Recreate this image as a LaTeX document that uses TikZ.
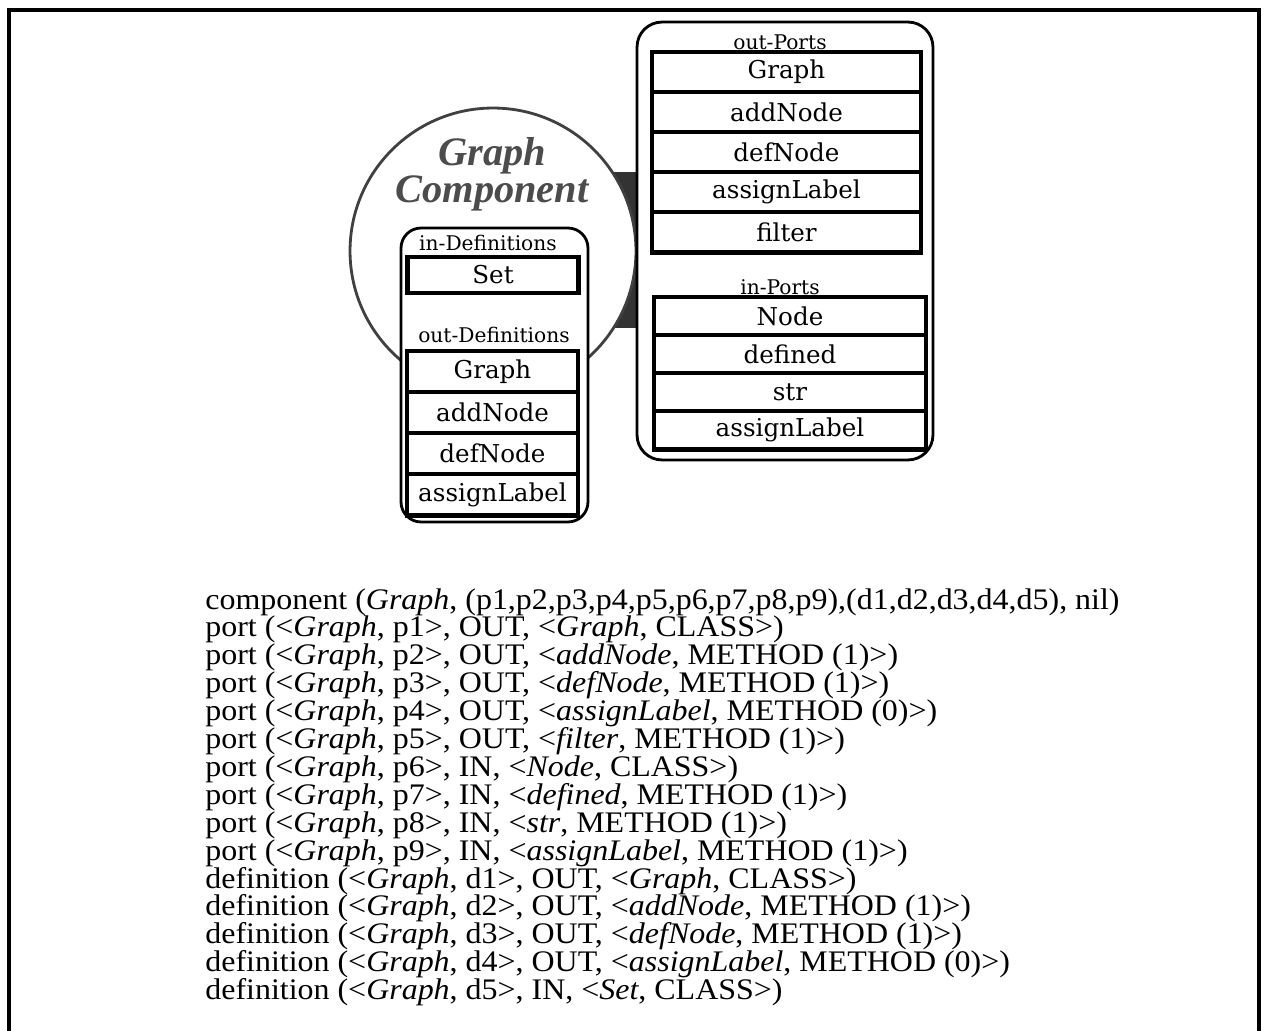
\documentclass[tikz,border=0pt]{standalone}
\usepackage{fontspec}
\setmainfont{Liberation Serif}
\newfontfamily\boxfont{DejaVu Serif}
\newfontfamily\specfont[FakeStretch=1.07]{Liberation Serif}
\usetikzlibrary{positioning}

\begin{document}
\begin{tikzpicture}[
  x=0.02cm, y=-0.02cm,
  holder/.style={draw, line width=1.6pt, fill=white, inner sep=0pt},
  entry/.style={draw, line width=1.2pt, fill=white, inner sep=0pt,
                font=\boxfont\fontsize{14}{16}\selectfont},
  oprow/.style={entry, minimum width=5.34cm, minimum height=0.76cm},
  iprow/.style={entry, minimum width=5.4cm, minimum height=0.72cm},
  defrow/.style={entry, minimum width=3.38cm, minimum height=0.78cm},
  caption/.style={font=\boxfont\fontsize{11.5}{13}\selectfont, inner sep=0pt},
  listframe/.style={line width=2.6pt},
  spec/.style={font=\specfont\fontsize{17}{20}\selectfont, inner sep=0pt, anchor=base west}
]
\useasboundingbox (0,0) rectangle (1265,1031);
\draw[line width=2pt] (9,1100) -- (9,10) -- (1259,10) -- (1259,1100);

% dark bar joining the component to its ports
\fill[black!80] (613,172) rectangle (640,328);
\node[circle, draw=black!75, line width=1.6pt, fill=white, minimum size=5.72cm] (comp) at (493,251) {};
\node[font=\bfseries\itshape\fontsize{23}{20}\selectfont, text=black!70, align=center] (title) at (492,174) {Graph\\Component};

% ports
\node[holder, rounded corners=0.5cm, minimum width=5.92cm, minimum height=8.76cm] (ports) at (785,241) {};
\node[caption] (outportslbl) at (780,42) {out-Ports};
\node[oprow] (op1) at (786.5,72) {Graph};
\node[oprow, below=0pt of op1] (op2) {addNode};
\node[oprow, below=0pt of op2] (op3) {defNode};
\node[oprow, below=0pt of op3] (op4) {assignLabel};
\node[oprow, below=0pt of op4] (op5) {filter};
\draw[listframe] (op1.north west) rectangle (op5.south east);

\node[caption] (inportslbl) at (780,287) {in-Ports};
\node[iprow] (ip1) at (790,316) {Node};
\node[iprow, below=0pt of ip1] (ip2) {defined};
\node[iprow, below=0pt of ip2] (ip3) {str};
\node[iprow, below=0pt of ip3] (ip4) {assignLabel};
\draw[listframe] (ip1.north west) rectangle (ip4.south east);

% definitions
\node[holder, rounded corners=0.4cm, minimum width=3.74cm, minimum height=5.88cm] (defs) at (494.5,375) {};
\node[caption] (indeflbl) at (488,243) {in-Definitions};
\node[defrow, minimum height=0.68cm] (id1) at (493,275) {Set};
\draw[listframe] (id1.north west) rectangle (id1.south east);

\node[caption] (outdeflbl) at (494,335) {out-Definitions};
\node[defrow] (od1) at (492.5,371.5) {Graph};
\node[defrow, below=0pt of od1] (od2) {addNode};
\node[defrow, below=0pt of od2] (od3) {defNode};
\node[defrow, below=0pt of od3] (od4) {assignLabel};
\draw[listframe] (od1.north west) rectangle (od4.south east);

% textual form
\foreach \txt [count=\i from 0] in {
  {component (\textit{Graph}, (p1,p2,p3,p4,p5,p6,p7,p8,p9),(d1,d2,d3,d4,d5), nil)},
  {port (<\textit{Graph}, p1>, OUT, <\textit{Graph}, CLASS>)},
  {port (<\textit{Graph}, p2>, OUT, <\textit{addNode}, METHOD (1)>)},
  {port (<\textit{Graph}, p3>, OUT, <\textit{defNode}, METHOD (1)>)},
  {port (<\textit{Graph}, p4>, OUT, <\textit{assignLabel}, METHOD (0)>)},
  {port (<\textit{Graph}, p5>, OUT, <\textit{filter}, METHOD (1)>)},
  {port (<\textit{Graph}, p6>, IN, <\textit{Node}, CLASS>)},
  {port (<\textit{Graph}, p7>, IN, <\textit{defined}, METHOD (1)>)},
  {port (<\textit{Graph}, p8>, IN, <\textit{str}, METHOD (1)>)},
  {port (<\textit{Graph}, p9>, IN, <\textit{assignLabel}, METHOD (1)>)},
  {definition (<\textit{Graph}, d1>, OUT, <\textit{Graph}, CLASS>)},
  {definition (<\textit{Graph}, d2>, OUT, <\textit{addNode}, METHOD (1)>)},
  {definition (<\textit{Graph}, d3>, OUT, <\textit{defNode}, METHOD (1)>)},
  {definition (<\textit{Graph}, d4>, OUT, <\textit{assignLabel}, METHOD (0)>)},
  {definition (<\textit{Graph}, d5>, IN, <\textit{Set}, CLASS>)}}
  \node[spec] (line\i) at (205,{609+27.9*\i}) {\txt};
\end{tikzpicture}
\end{document}
